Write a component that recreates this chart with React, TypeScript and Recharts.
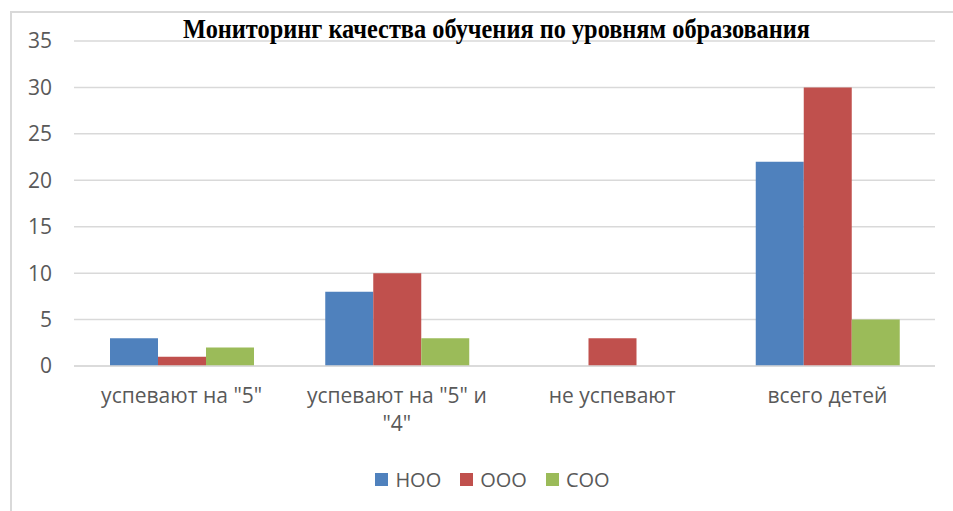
import { BarChart, Bar, XAxis, YAxis, CartesianGrid, Legend } from "recharts";

const title = "Мониторинг качества обучения по уровням образования";
const categories = ['успевают на "5"', 'успевают на "5" и\n"4"', "не успевают", "всего детей"];
const nooValues = [3, 8, 0, 22];
const oooValues = [1, 10, 3, 30];
const sooValues = [2, 3, 0, 5];
const yTicks = [0, 5, 10, 15, 20, 25, 30, 35];

const data = categories.map((category, i) => ({
  category,
  noo: nooValues[i],
  ooo: oooValues[i],
  soo: sooValues[i],
}));

const TEXT = "#595959";
const GRID = "#D9D9D9";
const FONT = "'Open Sans', sans-serif";

function CategoryTick({ x, y, payload }: any) {
  const lines = String(payload.value).split("\n");
  return (
    <g transform={`translate(${x},${y})`}>
      {lines.map((line, i) => (
        <text key={i} x={0} y={29 + i * 28} textAnchor="middle" fill={TEXT} fontSize={21} fontFamily={FONT}>
          {line}
        </text>
      ))}
    </g>
  );
}

function LegendContent({ payload }: any) {
  return (
    <div
      style={{
        display: "flex",
        justifyContent: "center",
        alignItems: "center",
        height: 30,
        fontFamily: FONT,
        fontSize: 20,
        color: TEXT,
      }}
    >
      {(payload || []).map((item: any, i: number) => (
        <span key={item.value} style={{ display: "inline-flex", alignItems: "center", marginRight: i < payload.length - 1 ? 19 : 0 }}>
          <span style={{ display: "inline-block", width: 13, height: 13, background: item.color, marginRight: 7 }} />
          {item.value}
        </span>
      ))}
    </div>
  );
}

export default function App() {
  return (
    <div style={{ position: "absolute", left: 0, top: 0, width: 953, height: 511, background: "#fff", overflow: "hidden" }}>
      <div
        style={{
          position: "absolute",
          left: 10,
          top: 11,
          width: 980,
          height: 540,
          border: `2px solid ${GRID}`,
          boxSizing: "border-box",
        }}
      />
      <BarChart
        width={953}
        height={511}
        data={data}
        margin={{ top: 41, right: 18, left: 0, bottom: 55 }}
        barCategoryGap={36}
        barGap={0}
      >
        <CartesianGrid vertical={false} stroke={GRID} strokeWidth={1.5} />
        <XAxis
          dataKey="category"
          height={60}
          interval={0}
          axisLine={{ stroke: GRID, strokeWidth: 1.5 }}
          tickLine={false}
          tick={<CategoryTick />}
        />
        <YAxis
          width={74}
          domain={[0, 35]}
          ticks={yTicks}
          axisLine={false}
          tickLine={false}
          tickSize={6}
          tickMargin={16}
          tick={{ fill: TEXT, fontSize: 21, fontFamily: FONT }}
        />
        <Legend
          verticalAlign="bottom"
          wrapperStyle={{ left: 32, width: 921, top: 464 }}
          content={<LegendContent />}
        />
        <Bar dataKey="noo" name="НОО" fill="#4F81BD" isAnimationActive={false} />
        <Bar dataKey="ooo" name="ООО" fill="#C0504D" isAnimationActive={false} />
        <Bar dataKey="soo" name="СОО" fill="#9BBB59" isAnimationActive={false} />
      </BarChart>
      <svg width={953} height={511} style={{ position: "absolute", left: 0, top: 0, pointerEvents: "none" }}>
        <text
          x={496.5}
          y={38}
          textAnchor="middle"
          fontFamily="'Liberation Serif', 'Times New Roman', serif"
          fontWeight="bold"
          fontSize={27}
          fill="#000"
          textLength={627}
          lengthAdjust="spacingAndGlyphs"
        >
          {title}
        </text>
      </svg>
    </div>
  );
}
